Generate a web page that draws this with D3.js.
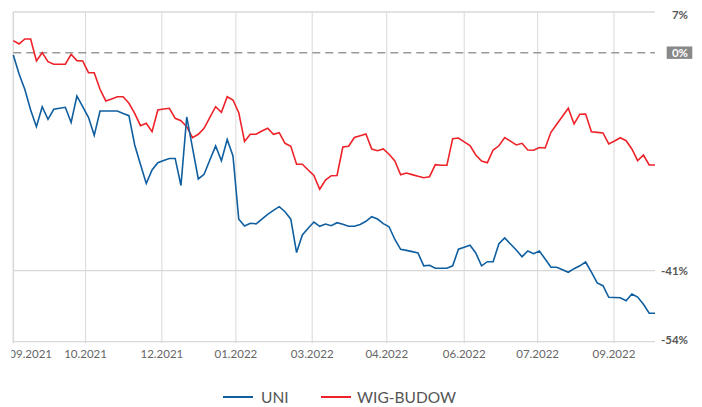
<!DOCTYPE html>
<html>
<head>
<meta charset="utf-8">
<script src="https://cdn.jsdelivr.net/npm/d3@7"></script>
<style>
  body { margin: 0; background: #fff; }
  svg { display: block; font-family: Lato, "Open Sans", sans-serif; }
</style>
</head>
<body>
<div class="chart"></div>
<script>
// % change since start, one value per session
const uni = [-0.43,-4.01,-6.92,-10.78,-13.92,-10.16,-12.53,-10.65,-10.46,-10.27,
  -13.13,-8.14,-10.16,-12.15,-15.54,-10.96,-10.96,-10.96,-10.96,-11.42,
  -11.85,-17.36,-21.03,-24.60,-22.06,-20.69,-20.27,-19.89,-19.89,-24.98,
  -12.09,-17.92,-23.75,-22.87,-20.18,-17.55,-20.31,-16.33,-19.43,-31.33,
  -32.59,-32.09,-32.18,-31.28,-30.39,-29.64,-28.96,-29.90,-31.31,-37.58,
  -34.29,-33.03,-31.84,-32.65,-32.22,-32.54,-31.97,-32.27,-32.63,-32.63,
  -32.31,-31.71,-30.84,-31.28,-32.16,-32.73,-35.13,-36.98,-37.18,-37.41,
  -37.67,-40.08,-39.98,-40.55,-40.55,-40.55,-40.08,-36.96,-36.60,-36.22,
  -37.67,-40.08,-39.31,-39.31,-35.92,-34.85,-35.98,-37.11,-38.37,-37.30,
  -37.80,-37.30,-38.80,-40.36,-40.36,-40.83,-41.30,-40.62,-40.08,-39.36,
  -41.25,-43.31,-43.82,-46.00,-46.04,-46.08,-46.64,-45.38,-45.95,-47.30,
  -49.01,-49.01];

const wig = [2.26,1.64,2.58,2.58,-1.56,0.0,-1.69,-2.18,-2.18,-2.18,
  -0.30,-1.50,-1.56,-3.76,-3.76,-6.88,-9.08,-8.71,-8.28,-8.28,
  -9.52,-11.40,-13.73,-13.28,-14.86,-10.78,-10.59,-10.46,-12.34,-12.79,
  -13.92,-15.99,-15.35,-14.22,-12.15,-10.16,-11.21,-8.28,-8.90,-11.28,
  -16.70,-15.35,-15.35,-14.73,-14.22,-15.35,-15.05,-17.04,-17.60,-20.99,
  -20.99,-22.06,-23.10,-25.69,-23.94,-23.13,-23.10,-17.74,-17.60,-15.95,
  -15.61,-15.29,-18.11,-18.43,-18.11,-19.09,-20.37,-22.95,-22.63,-22.93,
  -23.23,-23.51,-23.32,-21.06,-21.18,-21.18,-16.17,-16.04,-16.76,-17.49,
  -19.24,-20.37,-20.69,-18.30,-17.51,-15.95,-16.64,-17.36,-17.04,-18.30,
  -18.36,-17.83,-17.92,-14.97,-13.47,-11.96,-10.46,-13.41,-11.57,-11.53,
  -14.86,-14.99,-15.10,-17.17,-16.61,-15.99,-16.55,-18.11,-20.31,-19.24,
  -21.12,-21.12];

const tickPos = [0, 12.5, 25.7, 38.5, 51.7, 64.6, 78.0, 90.7, 103.9];
const tickLabels = ["09.2021","10.2021","12.2021","01.2022","03.2022","04.2022","06.2022","07.2022","09.2022"];
const yTicks = [7, 0, -41, -54];
const yGrid = [-41];
const seriesNames = ["UNI", "WIG-BUDOW"];
const seriesColors = ["#0f5fa0", "#ee2229"];

const width = 702, height = 407;
const margin = {top: 12, right: 47, bottom: 65.3, left: 13.3};

const svg = d3.select(".chart")
              .append("svg")
              .attr("width", width)
              .attr("height", height);

const x = d3.scaleLinear()
            .domain([0, uni.length - 1])
            .range([margin.left, width - margin.right]);

const y = d3.scaleLinear()
            .domain([-54.35, 7.65])
            .range([height - margin.bottom, margin.top]);

const x0 = margin.left, x1 = width - margin.right;
const yTop = margin.top, yBot = height - margin.bottom;

// grid
var grid = svg.append("g").classed("grid", true);
grid.selectAll("line.v")
    .data(tickPos)
    .enter().append("line")
    .attr("x1", d => x(d)).attr("x2", d => x(d))
    .attr("y1", yTop).attr("y2", yBot + 1.5)
    .attr("stroke", "#d8d8d8")
    .attr("stroke-width", (d, i) => i == 0 ? 1.5 : 1);

grid.selectAll("line.h")
    .data([y.domain()[1], ...yGrid, y.domain()[0]])
    .enter().append("line")
    .attr("x1", x0).attr("x2", x1)
    .attr("y1", d => y(d)).attr("y2", d => y(d))
    .attr("stroke", "#d8d8d8")
    .attr("stroke-width", 1.3);

// zero line
svg.append("line")
   .attr("x1", x0).attr("x2", x1)
   .attr("y1", y(0)).attr("y2", y(0))
   .attr("stroke", "#999")
   .attr("stroke-width", 1.5)
   .attr("stroke-dasharray", "8,5");

// series
const line = d3.line()
               .x((d, i) => x(i))
               .y(d => y(d));

[wig, uni].forEach(function(s, k){
    svg.append("path")
       .datum(s)
       .attr("fill", "none")
       .attr("stroke", k == 0 ? seriesColors[1] : seriesColors[0])
       .attr("stroke-width", 1.6)
       .attr("d", line);
});

// x labels
svg.append("clipPath").attr("id", "xclip")
   .append("rect").attr("x", x0 - 2).attr("y", yBot).attr("width", width).attr("height", 40);

svg.append("g").attr("clip-path", "url(#xclip)")
   .selectAll("text")
   .data(tickPos)
   .enter().append("text")
   .attr("x", (d, i) => i == 0 ? x(d) - 4 : x(d))
   .attr("y", 358)
   .attr("text-anchor", (d, i) => i == 0 ? "start" : "middle")
   .attr("font-size", 11.5)
   .attr("fill", "#666")
   .text((d, i) => tickLabels[i]);

// y labels
var yl = svg.append("g").classed("ylabels", true);
yl.append("rect")
  .attr("x", 666.7).attr("y", y(0) - 6.2)
  .attr("width", 25.6).attr("height", 12.4)
  .attr("fill", "#888");

yl.selectAll("text")
  .data(yTicks)
  .enter().append("text")
  .attr("x", 688)
  .attr("y", d => y(d))
  .attr("dy", "0.35em")
  .attr("text-anchor", "end")
  .attr("font-size", 11.5)
  .attr("font-weight", "bold")
  .attr("fill", d => d == 0 ? "#fff" : "#555")
  .text(d => d + "%");

// legend
var lg = svg.append("g").classed("legend", true);
var lx = [223, 321];
seriesNames.forEach(function(n, i){
    lg.append("line")
      .attr("x1", lx[i]).attr("x2", lx[i] + 30)
      .attr("y1", 397).attr("y2", 397)
      .attr("stroke", seriesColors[i])
      .attr("stroke-width", 2);
    lg.append("text")
      .attr("x", lx[i] + (i == 0 ? 38 : 36))
      .attr("y", 397)
      .attr("dy", "0.36em")
      .attr("font-size", 15.5)
      .attr("fill", "#555")
      .text(n);
});
</script>
</body>
</html>
